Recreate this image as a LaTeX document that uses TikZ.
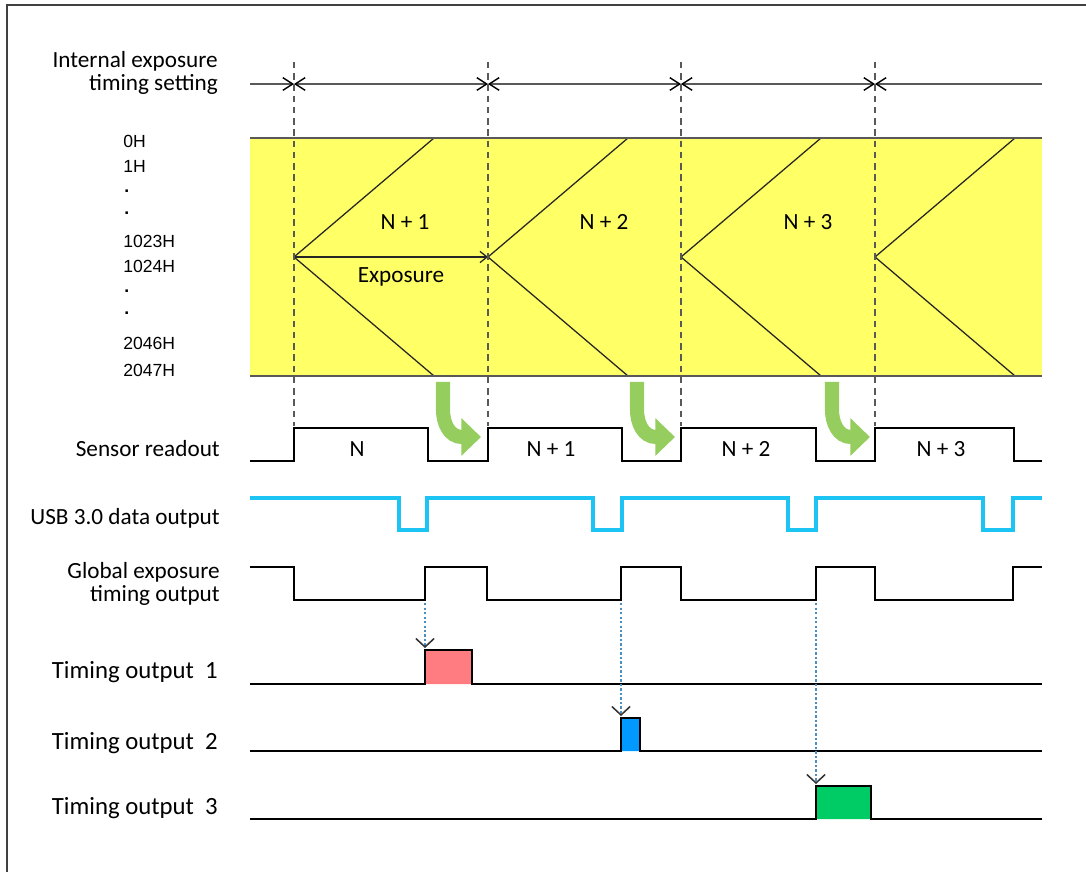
\documentclass[tikz,border=0pt]{standalone}
\usepackage{fontspec}
\setmainfont{Carlito}
\newfontfamily\rowfont{Liberation Sans}
\usetikzlibrary{
  arrows.meta,
  positioning
}
\definecolor{tdyellow}{HTML}{FFFF66}
\definecolor{tdgreen}{HTML}{96CD5F}
\definecolor{tdcyan}{HTML}{1CC4F4}
\definecolor{tdgray}{HTML}{595959}
\definecolor{tdframe}{HTML}{404040}
\definecolor{tdred}{HTML}{FF7C80}
\definecolor{tdblue}{HTML}{0099FF}
\definecolor{tdemerald}{HTML}{00CC66}
\definecolor{tddot}{HTML}{4A8FC0}

\begin{document}
\begin{tikzpicture}[
  x=0.025cm, y=-0.025cm,
  sig/.style={line width=2.1pt, black, line join=miter},
  usb/.style={line width=2.8pt, tdcyan, line join=miter},
  guide/.style={line width=1.1pt, tdgray, dash pattern=on 4.5pt off 3.5pt},
  scan/.style={line width=0.9pt, black!85},
  setline/.style={line width=1.3pt, tdgray},
  setmark/.style={setline, {Straight Barb[length=7pt, width=9pt, line width=1pt, black]}-{Straight Barb[length=7pt, width=9pt, line width=1pt, black]}},
  readarrow/.style={line width=10pt, tdgreen, -{Triangle[length=14pt, width=26pt]}},
  trig/.style={line width=1.6pt, tddot, dash pattern=on 1.6pt off 1.6pt,
    -{Straight Barb[length=6pt, width=13pt, line width=1.1pt, black!80]}},
  lbl/.style={font=\fontsize{16.5}{16.5}\selectfont, align=right, anchor=east, inner sep=0pt},
  outlbl/.style={lbl, font=\fontsize{17.6}{17.6}\selectfont},
  cell/.style={font=\fontsize{16.5}{16.5}\selectfont, inner sep=0pt},
  row/.style={font=\rowfont\fontsize{12.5}{14}\selectfont, anchor=base west, inner sep=0pt}
]
\useasboundingbox (0,0) rectangle (1086,872);

% frame (cut at right and bottom)
\draw[tdframe, line width=1.5pt] (7,900) -- (7,5) -- (1100,5);

% marks of the internal exposure timing
\coordinate (s0) at (250,84);
\coordinate (m1) at (294,84);
\coordinate (m2) at (488,84);
\coordinate (m3) at (681,84);
\coordinate (m4) at (875,84);
\coordinate (s5) at (1042,84);

\node[lbl] (lblSetting) at (218,73) {Internal exposure\\timing setting};
\draw[setline, -{Straight Barb[length=7pt, width=9pt, line width=1pt, black]}] (s0) -- (m1);
\draw[setmark] (m1) -- (m2);
\draw[setmark] (m2) -- (m3);
\draw[setmark] (m3) -- (m4);
\draw[setline, {Straight Barb[length=7pt, width=9pt, line width=1pt, black]}-] (m4) -- (s5);

% sensor rows
\fill[tdyellow] (250,138) rectangle (1042,376);

\node[row] (r0) at (123,148) {0H};
\node[row] (r1) at (123,173) {1H};
\node[row] (r2) at (124,193) {\textbf{.}};
\node[row] (r3) at (124,215) {\textbf{.}};
\node[row] (r4) at (123,248) {1023H};
\node[row] (r5) at (123,273) {1024H};
\node[row] (r6) at (124,293) {\textbf{.}};
\node[row] (r7) at (124,315) {\textbf{.}};
\node[row] (r8) at (123,350) {2046H};
\node[row] (r9) at (123,377) {2047H};

\coordinate (e1) at (294,257);
\coordinate (e2) at (488,257);
\coordinate (e3) at (681,257);
\coordinate (e4) at (875,257);

\draw[scan] (434,138) -- (e1) -- (434,376);
\draw[scan] (628,138) -- (e2) -- (628,376);
\draw[scan] (821,138) -- (e3) -- (821,376);
\draw[scan] (1015,138) -- (e4) -- (1015,376);
\draw[scan, -{Straight Barb[length=5pt, width=8pt, line width=0.9pt]}] (e1) -- (e2);

\node[cell] (expN1) at (405,222) {N + 1};
\node[cell] (expN2) at (604,222) {N + 2};
\node[cell] (expN3) at (808,222) {N + 3};
\node[cell] (expLbl) at (401,277) {Exposure};

\draw[tdgray, line width=1.4pt] (250,138) -- (1042,138);
\draw[tdgray, line width=1.4pt] (250,376) -- (1042,376);

% dashed guides
\draw[guide] (294,62) -- (294,426);
\draw[guide] (488,62) -- (488,426);
\draw[guide] (681,62) -- (681,426);
\draw[guide] (875,62) -- (875,426);

% readout start arrows
\draw[readarrow] (443,382) -- (443,410) to[out=-90, in=180] (462,437) -- (481,437);
\draw[readarrow] (637,382) -- (637,410) to[out=-90, in=180] (656,437) -- (675,437);
\draw[readarrow] (832,382) -- (832,410) to[out=-90, in=180] (851,437) -- (870,437);

% Sensor readout
\node[lbl] (lblReadout) at (220,449) {Sensor readout};
\draw[sig] (250,461) -- (294,461) -- (294,428) -- (428,428) -- (428,461)
  -- (488,461) -- (488,428) -- (622,428) -- (622,461)
  -- (681,461) -- (681,428) -- (816,428) -- (816,461)
  -- (875,461) -- (875,428) -- (1014,428) -- (1014,461) -- (1042,461);
\node[cell] (rdN0) at (357,449) {N};
\node[cell] (rdN1) at (551,449) {N + 1};
\node[cell] (rdN2) at (746,449) {N + 2};
\node[cell] (rdN3) at (941,449) {N + 3};

% USB 3.0 data output
\node[lbl] (lblUsb) at (220,518) {USB 3.0 data output};
\draw[usb] (250,498) -- (399,498) -- (399,530) -- (427,530) -- (427,498)
  -- (593,498) -- (593,530) -- (622,530) -- (622,498)
  -- (788,498) -- (788,530) -- (816,530) -- (816,498)
  -- (983,498) -- (983,530) -- (1013,530) -- (1013,498) -- (1042,498);

% Global exposure timing output
\node[lbl] (lblGlobal) at (220,584) {Global exposure\\timing output};
\draw[sig] (250,567) -- (294,567) -- (294,600) -- (425,600) -- (425,567)
  -- (487,567) -- (487,600) -- (621,600) -- (621,567)
  -- (681,567) -- (681,600) -- (816,600) -- (816,567)
  -- (875,567) -- (875,600) -- (1013,600) -- (1013,567) -- (1042,567);

% Timing outputs
\node[outlbl] (lblOut1) at (218,672) {Timing output~~1};
\node[outlbl] (lblOut2) at (218,743) {Timing output~~2};
\node[outlbl] (lblOut3) at (218,808) {Timing output~~3};

\filldraw[sig, fill=tdred] (250,684) -- (425,684) -- (425,650) -- (472,650) -- (472,684) -- (1042,684);
\filldraw[sig, fill=tdblue] (250,751) -- (621,751) -- (621,718) -- (640,718) -- (640,751) -- (1042,751);
\filldraw[sig, fill=tdemerald] (250,819) -- (816,819) -- (816,786) -- (871,786) -- (871,819) -- (1042,819);

\coordinate (g1) at (425,603);
\coordinate (g2) at (621,603);
\coordinate (g3) at (816,603);
\coordinate (t1) at (425,648);
\coordinate (t2) at (621,716);
\coordinate (t3) at (816,784);
\draw[trig] (g1) -- (t1);
\draw[trig] (g2) -- (t2);
\draw[trig] (g3) -- (t3);

\end{tikzpicture}
\end{document}
